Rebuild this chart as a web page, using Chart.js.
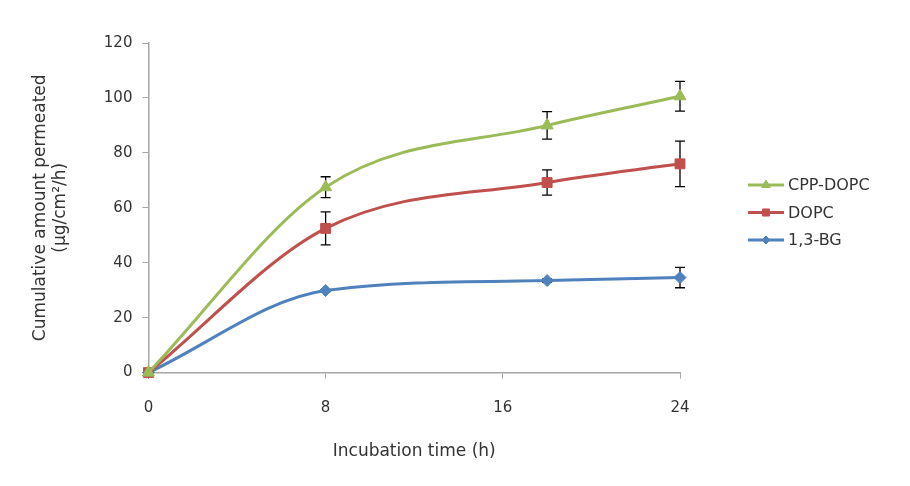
<!DOCTYPE html>
<html>
<head>
<meta charset="utf-8">
<script src="https://cdn.jsdelivr.net/npm/chart.js@4"></script>
<style>
  html, body { margin: 0; padding: 0; background: #fff; }
  #wrap { width: 910px; height: 486px; }
</style>
</head>
<body>
<div id="wrap"><canvas id="permChart"></canvas></div>
<script>
// data
const times = [0, 8, 18, 24];
const cppDopc = [0, 67.5, 90.0, 100.6];
const cppDopcErr = [0, 3.8, 5.0, 5.4];
const dopc = [0, 52.5, 69.2, 76.0];
const dopcErr = [0, 6.0, 4.6, 8.3];
const bg13 = [0, 29.9, 33.5, 34.6];
const bg13Err = [0, 0.4, 0.6, 3.7];
const xTicks = [0, 8, 16, 24];
const yTicks = [0, 20, 40, 60, 80, 100, 120];

const textColor = '#333333';
const axisColor = '#a6a6a6';
const fontFamily = "'DejaVu Sans', sans-serif";

function toPoints(vals) {
    return times.map((t, i) => ({ x: t, y: vals[i] }));
}

const seriesList = [
    { label: 'CPP-DOPC', data: cppDopc, err: cppDopcErr, color: '#9bbb59', style: 'triangle', radius: 7 },
    { label: 'DOPC', data: dopc, err: dopcErr, color: '#c0504d', style: 'rect', radius: 7 },
    { label: '1,3-BG', data: bg13, err: bg13Err, color: '#4f81bd', style: 'rectRot', radius: 6 }
];

/**
 * Error bars drawn from the err arrays
 */
const errorBars = {
    id: 'errorBars',
    beforeDatasetsDraw(chart) {
        const ctx = chart.ctx;
        const xs = chart.scales.x;
        const ys = chart.scales.y;
        ctx.save();
        ctx.strokeStyle = '#000';
        ctx.lineWidth = 1.3;
        seriesList.forEach(s => {
            times.forEach((t, i) => {
                const e = s.err[i];
                if (!e) return;
                const px = xs.getPixelForValue(t);
                const top = ys.getPixelForValue(s.data[i] + e);
                const bot = ys.getPixelForValue(s.data[i] - e);
                ctx.beginPath();
                ctx.moveTo(px, top); ctx.lineTo(px, bot);
                ctx.moveTo(px - 5, top); ctx.lineTo(px + 5, top);
                ctx.moveTo(px - 5, bot); ctx.lineTo(px + 5, bot);
                ctx.stroke();
            });
        });
        ctx.restore();
    }
};

/**
 * Legend with line + marker, to the right of the plot
 */
const sideLegend = {
    id: 'sideLegend',
    afterDraw(chart) {
        const ctx = chart.ctx;
        const x0 = 748;
        let y = 185;
        ctx.save();
        ctx.font = '16px ' + fontFamily;
        ctx.textBaseline = 'middle';
        seriesList.forEach(s => {
            ctx.strokeStyle = s.color;
            ctx.lineWidth = 3;
            ctx.beginPath();
            ctx.moveTo(x0, y); ctx.lineTo(x0 + 36, y);
            ctx.stroke();
            ctx.fillStyle = s.color;
            ctx.strokeStyle = s.color;
            ctx.lineWidth = 1;
            Chart.helpers.drawPoint(ctx, { pointStyle: s.style, radius: s.radius - 2, rotation: 0, borderWidth: 1 }, x0 + 18, y);
            ctx.fillStyle = textColor;
            ctx.fillText(s.label, x0 + 40, y + 1);
            y += 27.5;
        });
        ctx.restore();
    }
};

new Chart(document.getElementById('permChart'), {
    type: 'line',
    data: {
        datasets: seriesList.map(s => ({
            label: s.label,
            data: toPoints(s.data),
            borderColor: s.color,
            backgroundColor: s.color,
            borderWidth: 3,
            cubicInterpolationMode: 'monotone',
            pointStyle: s.style,
            pointRadius: s.radius,
            pointBackgroundColor: s.color,
            pointBorderColor: s.color,
            pointBorderWidth: 1,
            clip: false
        }))
    },
    options: {
        responsive: true,
        maintainAspectRatio: false,
        animation: false,
        layout: {
            padding: { top: 43, right: 230, bottom: 20, left: 26 }
        },
        plugins: {
            legend: { display: false },
            tooltip: { enabled: false }
        },
        scales: {
            x: {
                type: 'linear',
                min: 0,
                max: 24,
                afterBuildTicks: axis => { axis.ticks = xTicks.map(v => ({ value: v })); },
                grid: {
                    drawOnChartArea: false,
                    drawTicks: true,
                    tickLength: 6,
                    color: axisColor
                },
                border: { color: axisColor, width: 1.5 },
                ticks: {
                    color: textColor,
                    padding: 21,
                    font: { family: fontFamily, size: 15 }
                },
                title: {
                    display: true,
                    text: 'Incubation time (h)',
                    color: textColor,
                    padding: { top: 3 },
                    font: { family: fontFamily, size: 17 }
                }
            },
            y: {
                min: 0,
                max: 120,
                afterBuildTicks: axis => { axis.ticks = yTicks.map(v => ({ value: v })); },
                grid: {
                    drawOnChartArea: false,
                    drawTicks: true,
                    tickLength: 6,
                    color: axisColor
                },
                border: { color: axisColor, width: 1.5 },
                ticks: {
                    color: textColor,
                    padding: 10,
                    font: { family: fontFamily, size: 15 }
                },
                title: {
                    display: true,
                    text: ['Cumulative amount permeated', '(µg/cm²/h)'],
                    color: textColor,
                    padding: { bottom: 23 },
                    font: { family: fontFamily, size: 17 },
                    lineHeight: 1.55
                }
            }
        }
    },
    plugins: [errorBars, sideLegend]
});
</script>
</body>
</html>
